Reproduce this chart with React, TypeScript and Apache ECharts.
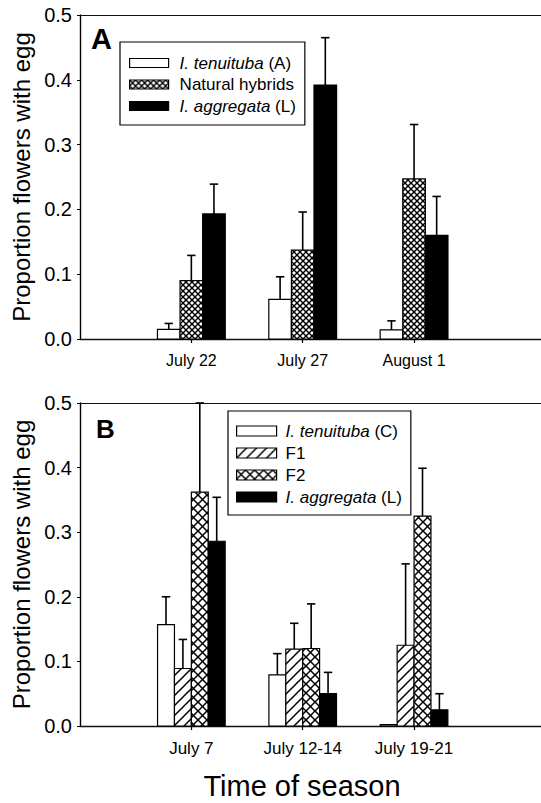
import React, { useEffect, useRef } from 'react';
import * as echarts from 'echarts';

// ---------- Data ----------
const categoriesA = ['July 22', 'July 27', 'August 1'];
const tenuitubaA = [0.015, 0.061, 0.014];
const tenuitubaAErr = [0.009, 0.035, 0.014];
const hybridsA = [0.09, 0.137, 0.247];
const hybridsAErr = [0.039, 0.059, 0.084];
const aggregataA = [0.193, 0.392, 0.16];
const aggregataAErr = [0.046, 0.073, 0.06];

const categoriesB = ['July 7', 'July 12-14', 'July 19-21'];
const tenuitubaC = [0.157, 0.079, 0.002];
const tenuitubaCErr = [0.043, 0.033, 0];
const f1B = [0.089, 0.119, 0.125];
const f1BErr = [0.045, 0.04, 0.126];
const f2B = [0.362, 0.12, 0.325];
const f2BErr = [0.138, 0.069, 0.074];
const aggregataB = [0.286, 0.05, 0.025];
const aggregataBErr = [0.068, 0.033, 0.025];

const yTicks = [0, 0.1, 0.2, 0.3, 0.4, 0.5];

const FONT = "'Liberation Sans', Arial, Helvetica, sans-serif";
const X_MAX = 4.14;

function svgTile(size: number, lines: number[][], lw: number) {
  const body = lines
    .map(([x1, y1, x2, y2]) => `<line x1="${x1}" y1="${y1}" x2="${x2}" y2="${y2}" stroke="#000" stroke-width="${lw}"/>`)
    .join('');
  const svg = `<svg xmlns="http://www.w3.org/2000/svg" width="${size}" height="${size}" viewBox="0 0 ${size} ${size}"><rect width="${size}" height="${size}" fill="#fff"/>${body}</svg>`;
  return {
    image: 'data:image/svg+xml;charset=utf-8,' + encodeURIComponent(svg),
    repeat: 'repeat',
    imageWidth: size,
    imageHeight: size,
  };
}
const cross = (s: number, lw: number) => svgTile(s, [[-1, -1, s + 1, s + 1], [s + 1, -1, -1, s + 1]], lw);
const diag = (s: number, lw: number) =>
  svgTile(s, [[-1, s + 1, s + 1, -1], [-1, 1, 1, -1], [s - 1, s + 1, s + 1, s - 1]], lw);

const crossA = cross(6, 1.4);
const crossB = cross(9, 1.5);
const diagB = diag(10, 1.5);

function barSeries(
  name: string,
  values: number[],
  errs: number[],
  fill: any,
  idx: number,
  n: number,
  bw: number,
  xAxisIndex: number,
  yAxisIndex: number
) {
  return {
    type: 'custom',
    name,
    xAxisIndex,
    yAxisIndex,
    clip: false,
    itemStyle: { color: fill, borderColor: '#000', borderWidth: 1.2 },
    encode: { x: 0, y: 1 },
    data: values.map((v, i) => [i + 1, v, errs[i]]),
    renderItem: (params: any, api: any) => {
      const x = api.value(0);
      const v = api.value(1);
      const e = api.value(2);
      const base = api.coord([x, 0]);
      const top = api.coord([x, v]);
      const cx = base[0] + (idx - (n - 1) / 2) * bw;
      const children: any[] = [
        {
          type: 'rect',
          shape: { x: cx - bw / 2, y: top[1], width: bw, height: base[1] - top[1] },
          style: { fill, stroke: '#000', lineWidth: 1.2 },
        },
      ];
      if (e > 0) {
        const et = api.coord([x, v + e]);
        children.push({
          type: 'line',
          shape: { x1: cx, y1: top[1], x2: cx, y2: et[1] },
          style: { stroke: '#000', lineWidth: 1.6 },
        });
        children.push({
          type: 'line',
          shape: { x1: cx - 4.2, y1: et[1], x2: cx + 4.2, y2: et[1] },
          style: { stroke: '#000', lineWidth: 1.6 },
        });
      }
      return { type: 'group', children };
    },
  };
}

function yAxis(gridIndex: number) {
  return {
    type: 'value',
    gridIndex,
    min: 0,
    max: 0.5,
    interval: 0.1,
    name: 'Proportion flowers with egg',
    nameLocation: 'middle',
    nameGap: 46,
    nameRotate: 90,
    nameTextStyle: { fontSize: 24, fontFamily: FONT, color: '#000' },
    axisLine: { show: true, lineStyle: { color: '#000', width: 1.4 } },
    axisTick: { show: true, length: 3, lineStyle: { color: '#000', width: 1 } },
    axisLabel: {
      fontSize: 20,
      fontFamily: FONT,
      color: '#000',
      margin: 8,
      customValues: yTicks,
      formatter: (v: number) => v.toFixed(1),
    },
    splitLine: { show: false },
  };
}

function xAxisBottom(gridIndex: number, cats: string[], fontSize: number, margin: number) {
  const pos = cats.map((_, i) => i + 1);
  return {
    type: 'value',
    gridIndex,
    min: 0,
    max: X_MAX,
    position: 'bottom',
    axisLine: { show: true, onZero: false, lineStyle: { color: '#111', width: 1.4 } },
    axisTick: { show: true, length: 4, customValues: pos, lineStyle: { color: '#000', width: 1.2 } },
    axisLabel: {
      customValues: pos,
      formatter: (v: number) => cats[Math.round(v) - 1] ?? '',
      fontSize,
      fontFamily: FONT,
      color: '#000',
      margin,
    },
    splitLine: { show: false },
  };
}

function xAxisTop(gridIndex: number) {
  return {
    type: 'value',
    gridIndex,
    min: 0,
    max: X_MAX,
    position: 'top',
    axisLine: { show: true, onZero: false, lineStyle: { color: '#111', width: 1.1 } },
    axisTick: { show: false },
    axisLabel: { show: false },
    splitLine: { show: false },
  };
}

function legendTextStyle(spacer: number) {
  return {
    fontSize: 17,
    fontFamily: FONT,
    color: '#000',
    lineHeight: 17,
    rich: {
      i: { fontStyle: 'italic', fontSize: 17, fontFamily: FONT, color: '#000', lineHeight: 17 },
      s: { width: spacer, fontSize: 17, lineHeight: 17 },
    },
  };
}
const legendFormatter = (name: string) => {
  const m = name.match(/^(I\. \S+)(.*)$/);
  return m ? `{s| }{i|${m[1]}}${m[2]}` : `{s| }${name}`;
};

export default function App() {
  const ref = useRef<HTMLDivElement>(null);
  useEffect(() => {
    if (!ref.current) return;
    const chart = echarts.init(ref.current, null, { renderer: 'svg' });

    const nA = 3;
    const bwA = 22.6;
    const nB = 4;
    const bwB = 16.9;

    const sA = [
      { name: 'I. tenuituba (A)', v: tenuitubaA, e: tenuitubaAErr, fill: '#fff' },
      { name: 'Natural hybrids', v: hybridsA, e: hybridsAErr, fill: crossA },
      { name: 'I. aggregata (L)', v: aggregataA, e: aggregataAErr, fill: '#000' },
    ];
    const sB = [
      { name: 'I. tenuituba (C)', v: tenuitubaC, e: tenuitubaCErr, fill: '#fff' },
      { name: 'F1', v: f1B, e: f1BErr, fill: diagB },
      { name: 'F2', v: f2B, e: f2BErr, fill: crossB },
      { name: 'I. aggregata (L)', v: aggregataB, e: aggregataBErr, fill: '#000' },
    ];

    const option: any = {
      animation: false,
      backgroundColor: '#fff',
      grid: [
        { left: 80, right: 0, top: 15, height: 324 },
        { left: 80, right: 0, top: 403, height: 323 },
      ],
      xAxis: [
        xAxisBottom(0, categoriesA, 16, 13),
        xAxisTop(0),
        xAxisBottom(1, categoriesB, 17, 14),
        xAxisTop(1),
      ],
      yAxis: [yAxis(0), yAxis(1)],
      legend: [
        {
          orient: 'vertical',
          left: 120,
          top: 42,
          padding: [12.5, 9, 10.5, 9],
          itemGap: 4.5,
          itemWidth: 39,
          itemHeight: 9,
          icon: 'rect',
          selectedMode: false,
          borderColor: '#000',
          borderWidth: 1.2,
          backgroundColor: '#fff',
          itemStyle: { borderColor: '#000', borderWidth: 1.2 },
          textStyle: legendTextStyle(6),
          formatter: legendFormatter,
          data: sA.map((s) => ({ name: s.name, itemStyle: { color: s.fill, borderColor: '#000', borderWidth: 1.2 } })),
        },
        {
          orient: 'vertical',
          left: 228,
          top: 411,
          padding: [11.5, 9, 9.5, 8],
          itemGap: 5,
          itemWidth: 40,
          itemHeight: 10,
          icon: 'rect',
          selectedMode: false,
          borderColor: '#000',
          borderWidth: 1.2,
          backgroundColor: '#fff',
          itemStyle: { borderColor: '#000', borderWidth: 1.2 },
          textStyle: legendTextStyle(4),
          formatter: legendFormatter,
          data: sB.map((s) => ({ name: s.name, itemStyle: { color: s.fill, borderColor: '#000', borderWidth: 1.2 } })),
        },
      ],
      graphic: [
        {
          type: 'text',
          x: 91,
          y: 38.5,
          style: { text: 'A', fontSize: 29, fontWeight: 'bold', fontFamily: FONT, fill: '#000', align: 'left', verticalAlign: 'middle' },
        },
        {
          type: 'text',
          x: 96,
          y: 428.5,
          style: { text: 'B', fontSize: 26, fontWeight: 'bold', fontFamily: FONT, fill: '#000', align: 'left', verticalAlign: 'middle' },
        },
        {
          type: 'text',
          x: 302,
          y: 786,
          style: { text: 'Time of season', fontSize: 29, fontFamily: FONT, fill: '#000', align: 'center', verticalAlign: 'middle' },
        },
      ],
      series: [
        ...sA.map((s, i) => barSeries(s.name, s.v, s.e, s.fill, i, nA, bwA, 0, 0)),
        ...sB.map((s, i) => barSeries(s.name, s.v, s.e, s.fill, i, nB, bwB, 2, 1)),
      ],
    };
    chart.setOption(option);
    return () => chart.dispose();
  }, []);
  return <div ref={ref} style={{ position: 'absolute', left: 0, top: 0, width: 541, height: 803 }} />;
}
